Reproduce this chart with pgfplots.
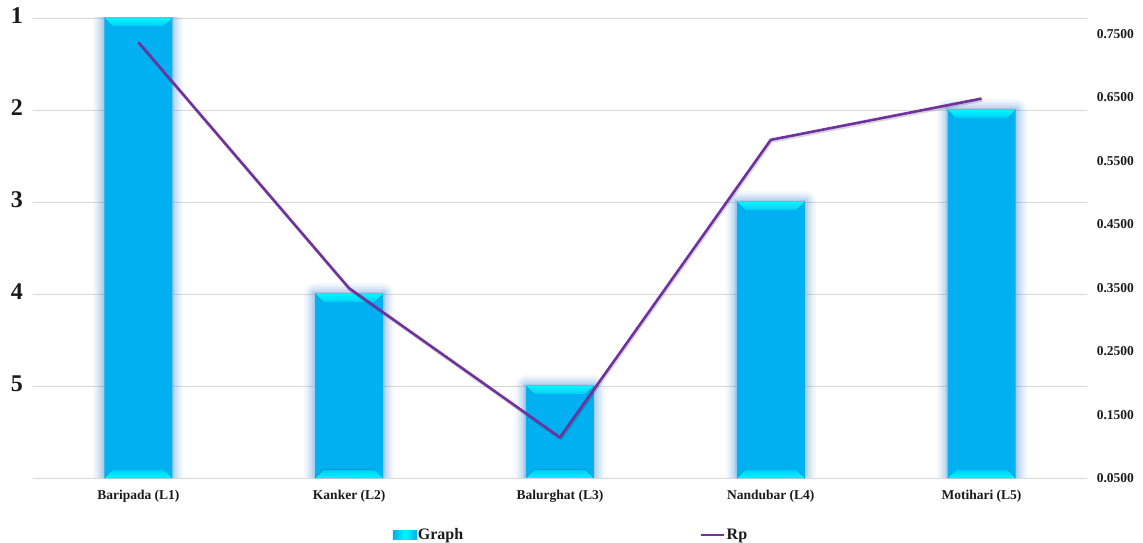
\documentclass[border=0pt]{standalone}
\usepackage{pgfplots}
\pgfplotsset{compat=1.18}
\usepackage{pgfplotstable}
\usepackage{fontspec}
\setmainfont{Liberation Serif}

\definecolor{barBlue}{HTML}{00B0F0}
\definecolor{bevelTop}{HTML}{00F6FF}
\definecolor{bevelMid}{HTML}{00CCF6}
\definecolor{glowBlue}{HTML}{5C9AD8}
\definecolor{rpPurple}{HTML}{7030A0}
\definecolor{gridGray}{HTML}{D9D9D9}
\definecolor{labelInk}{HTML}{1A1A1A}

% site index, rank of the site, Rp value
\pgfplotstableread{
idx rank rp
1 1 0.737
2 4 0.349
3 5 0.114
4 3 0.583
5 2 0.648
}\sites

% bevelled cap and foot of a bar; drawn at the bar top, \hval is the bar height
% (one rank step is 92pt tall, a bar is 68pt wide)
\pgfdeclareplotmark{bevelcap}{%
  \fill[draw=none, top color=bevelTop, bottom color=bevelMid]
    (-34pt,0pt) -- (34pt,0pt) -- (26pt,-8pt) -- (-26pt,-8pt) -- cycle;
  \fill[draw=none, top color=bevelMid, bottom color=bevelTop]
    (-34pt,-\hval*92pt) -- (34pt,-\hval*92pt)
    -- (26pt,-\hval*92pt+8pt) -- (-26pt,-\hval*92pt+8pt) -- cycle;
}

\begin{document}
\begin{tikzpicture}
% ranks (bars, left axis; rank 1 at the top)
\begin{axis}[
  at={(0pt,0pt)}, anchor=south west,
  scale only axis, width=1054pt, height=460pt,
  xmin=0.5, xmax=5.5, ymin=0, ymax=5,
  axis line style={draw=none},
  major tick length=0pt,
  xtick={1,...,5},
  xticklabels={Baripada (L1), Kanker (L2), Balurghat (L3), Nandubar (L4), Motihari (L5)},
  ytick={0,...,5},
  yticklabels={,5,4,3,2,1},
  ymajorgrids,
  major grid style={gridGray, line width=0.8pt},
  xticklabel style={font=\fontsize{13.5}{16}\selectfont\bfseries, text=labelInk,
    anchor=base, inner sep=0pt, yshift=-22pt},
  yticklabel style={font=\fontsize{24}{26}\selectfont\bfseries, text=labelInk,
    anchor=base east, inner sep=0pt, xshift=-10pt, yshift=-5.8pt},
  legend columns=2,
  legend style={at={(0.3412,-0.1239)}, anchor=west, draw=none, fill=none,
    inner sep=0pt, font=\fontsize{16}{18}\selectfont\bfseries, text=labelInk,
    nodes={inner sep=1pt},
    /tikz/every even column/.append style={column sep=236pt}},
]
% soft glow around the bars, built up from several faint outlines
\addplot[ybar, bar width=68pt, bar shift=0pt, fill=none, draw=none, forget plot,
  preaction={draw=glowBlue, draw opacity=0.06, line width=22pt, line join=round},
  preaction={draw=glowBlue, draw opacity=0.08, line width=18pt, line join=round},
  preaction={draw=glowBlue, draw opacity=0.10, line width=14pt, line join=round},
  preaction={draw=glowBlue, draw opacity=0.12, line width=10pt, line join=round},
  preaction={draw=glowBlue, draw opacity=0.15, line width=6pt},
  preaction={draw=glowBlue, draw opacity=0.18, line width=3pt}]
  table[x=idx, y expr=6-\thisrow{rank}] {\sites};
% the bars
\addplot[ybar, bar width=68pt, bar shift=0pt, fill=barBlue, draw=none, forget plot]
  table[x=idx, y expr=6-\thisrow{rank}] {\sites};
% bevel highlights
\addplot[only marks, forget plot, scatter, mark=bevelcap, draw=none,
  visualization depends on={6-\thisrow{rank} \as \hval},
  scatter/@pre marker code/.code={},
  scatter/@post marker code/.code={}]
  table[x=idx, y expr=6-\thisrow{rank}] {\sites};
\addlegendimage{legend image code/.code={
  \fill[draw=none, left color=barBlue, right color=barBlue, middle color=bevelTop]
    (0pt,-4.5pt) rectangle (24pt,4.5pt);}}
\addlegendentry{Graph}
\addlegendimage{legend image code/.code={
  \draw[rpPurple, line width=2.6pt] (0pt,0pt) -- (23pt,0pt);}}
\addlegendentry{Rp}
\end{axis}

% Rp (line, right axis)
\begin{axis}[
  at={(0pt,0pt)}, anchor=south west,
  scale only axis, width=1054pt, height=460pt,
  xmin=0.5, xmax=5.5, ymin=0.05, ymax=0.775,
  axis x line=none, axis y line*=right,
  axis line style={draw=none},
  major tick length=0pt,
  xtick=\empty,
  ytick={0.05,0.15,0.25,0.35,0.45,0.55,0.65,0.75},
  /pgf/number format/assume math mode=true,
  yticklabel style={font=\fontsize{13.5}{16}\selectfont\bfseries, text=labelInk,
    anchor=base west, inner sep=0pt, xshift=9.7pt, yshift=-4.6pt,
    /pgf/number format/.cd, fixed, fixed zerofill, precision=4},
]
\addplot[rpPurple, line width=2.6pt, line join=round,
  preaction={draw=black, draw opacity=0.16, line width=2.6pt,
    transform canvas={shift={(0.8pt,-1.8pt)}}}]
  table[x=idx, y=rp] {\sites};
\end{axis}

\path (-33pt,-65pt) rectangle (1110pt,478pt);
\end{tikzpicture}
\end{document}
